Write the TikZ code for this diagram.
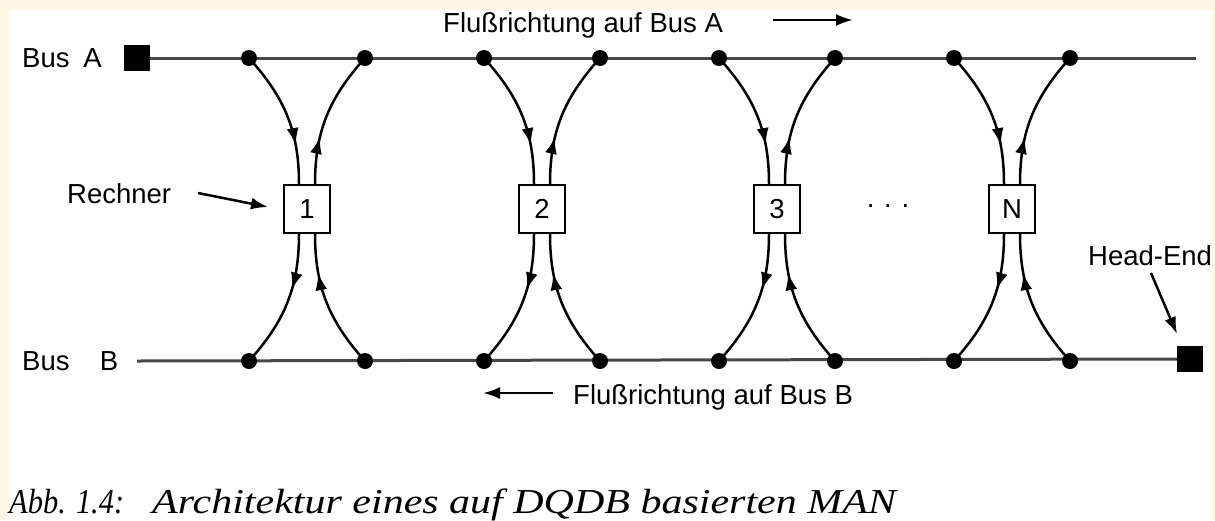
\documentclass[tikz,border=0pt]{standalone}
\usepackage{fontspec}
\setmainfont{Liberation Sans}
\newfontfamily\capfont{Liberation Serif}
\usetikzlibrary{arrows.meta,decorations.markings,calc}
\definecolor{paper}{RGB}{255,246,230}
\begin{document}
\begin{tikzpicture}[x=1pt,y=1pt,
  lbl/.style={font=\fontsize{27.5}{30}\selectfont, inner sep=0pt},
  bus/.style={line width=3pt, draw=black!72},
  tap/.style={circle, fill=black, inner sep=0pt, minimum size=16pt},
  endsq/.style={fill=black, inner sep=0pt, minimum size=26pt},
  station/.style={draw, line width=2.2pt, fill=white, minimum width=46pt,
    minimum height=48pt, inner sep=0pt, font=\fontsize{27.5}{30}\selectfont},
  link/.style={line width=2.5pt},
  tip/.style={-{Latex[length=17pt,width=12pt]}, line width=2.5pt},
  midarrow/.style={postaction={decorate}, decoration={markings,
    mark=at position #1 with {\arrow{Latex[length=17pt,width=12pt]}}}},
]
% page and drawing area
\fill[paper] (0,0) rectangle (1215,-520);
\fill[white] (9,-10) rectangle (1212,-520);
\useasboundingbox (0,0) rectangle (1215,-520);

% bus A (left to right) and bus B (right to left)
\node[lbl, anchor=base west] (busA) at (22,-67) {Bus\hspace{0.5em}A};
\node[endsq] (sqA) at (136.5,-58) {};
\coordinate (endA) at (1196,-58);
\node[lbl, anchor=base west] (busB) at (22,-370) {Bus\hspace{1.1em}B};
\coordinate (startB) at (137,-361);
\node[endsq] (sqB) at (1190,-359) {};
\draw[bus] (sqA.east) -- (endA);
\draw[bus] (startB) -- (sqB.west);

% stations with their read/write taps on both buses
\foreach \c/\n/\lab in {307/1/1, 542/2/2, 777/3/3, 1012/4/N}{
  \node[station] (s\n) at (\c,-209) {\lab};
  \coordinate (al\n) at (\c-58,-58);
  \coordinate (ar\n) at (\c+58,-58);
  \coordinate (bl\n) at (\c-58,-361);
  \coordinate (br\n) at (\c+58,-361);
  \draw[link, midarrow=0.72] (al\n) to[out=-48,in=90] ($(s\n.north)+(-8,0)$);
  \draw[link, midarrow=0.34] ($(s\n.north)+(8,0)$) to[out=90,in=-132] (ar\n);
  \draw[link, midarrow=0.4] ($(s\n.south)+(-8,0)$) to[out=-90,in=48] (bl\n);
  \draw[link, midarrow=0.72] (br\n) to[out=132,in=-90] ($(s\n.south)+(8,0)$);
  \foreach \p in {al,ar,bl,br}{
    \node[tap] (\p\n dot) at (\p\n) {};
  }
}
\node[lbl] (more) at (888,-209) {·\hspace{0.3em}·\hspace{0.3em}·};

% labels and pointers
\node[lbl, anchor=base west] (flA) at (443,-32) {Flußrichtung auf Bus A};
\coordinate (flAtail) at (773,-20);
\coordinate (flAhead) at (853,-20);
\draw[tip] (flAtail) -- (flAhead);

\node[lbl, anchor=base west] (flB) at (573,-404) {Flußrichtung auf Bus B};
\coordinate (flBtail) at (553,-393);
\coordinate (flBhead) at (483,-393);
\draw[tip] (flBtail) -- (flBhead);

\node[lbl, anchor=base west] (rech) at (67,-203) {Rechner};
\coordinate (rechtail) at (198,-193);
\coordinate (rechhead) at (268,-207);
\draw[tip] (rechtail) -- (rechhead);

\node[lbl, anchor=base west] (head) at (1088,-265) {Head-End};
\coordinate (headtail) at (1151,-273);
\coordinate (headhead) at (1177,-334);
\draw[tip] (headtail) -- (headhead);

% figure caption
\node[anchor=base west, inner sep=0pt, font=\capfont\itshape\fontsize{35}{38}\selectfont]
  (cap) at (9,-513) {\scalebox{0.87}[1]{Abb. 1.4:}\hspace{0.8em}\scalebox{1.2}[1]{Architektur eines auf DQDB basierten MAN}};
\end{tikzpicture}
\end{document}
